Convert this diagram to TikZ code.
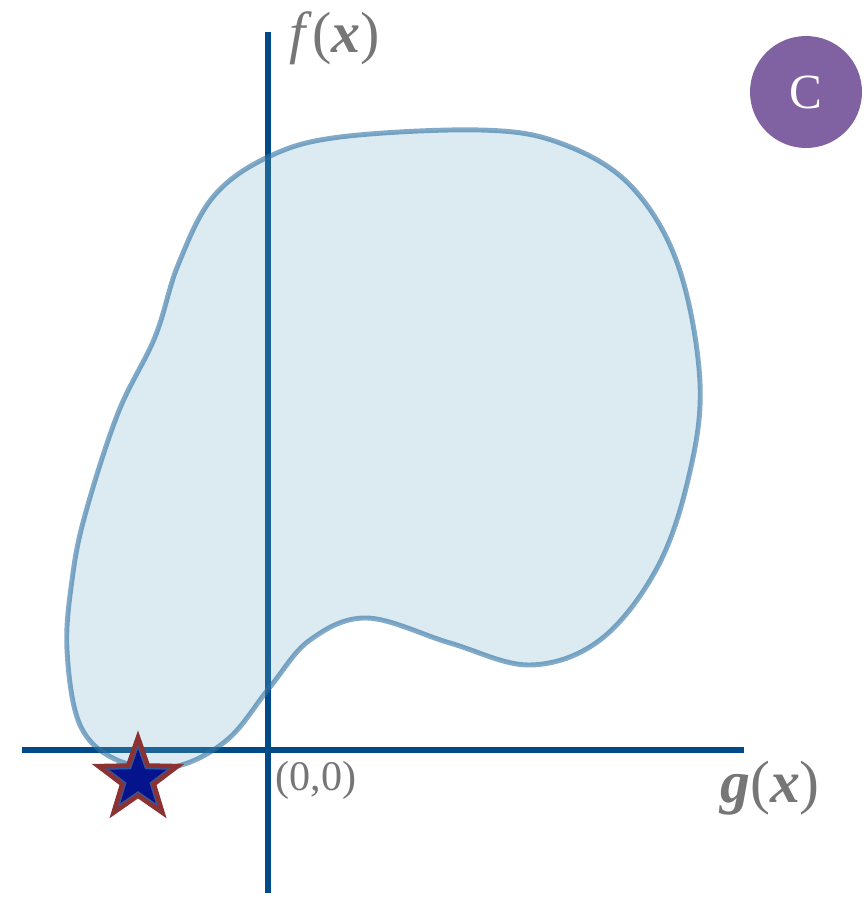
\documentclass[tikz,border=0pt]{standalone}
\usepackage{tikz}
\usetikzlibrary{shapes,arrows,positioning,calc,shapes.geometric,shadows}
\usepackage{xcolor}
\usepackage{fontspec}
\setmainfont{Liberation Serif}

\definecolor{axisblue}{RGB}{0,75,135}
\definecolor{blobfill}{RGB}{115,171,203}
\definecolor{blobline}{RGB}{47,113,163}
\definecolor{labelgray}{RGB}{118,118,118}
\definecolor{badgepurple}{RGB}{128,98,162}
\definecolor{starred}{RGB}{140,50,50}
\definecolor{starblue}{RGB}{5,20,140}
\definecolor{staredge}{RGB}{40,90,170}

\begin{document}
\begin{tikzpicture}[
    x=0.02cm, y=-0.02cm,
    axis/.style={draw=axisblue, line width=3.4pt},
    region/.style={draw=blobline, draw opacity=0.6, line width=2.8pt, fill=blobfill, fill opacity=0.25},
    axislabel/.style={text=labelgray, inner sep=0pt},
    badge/.style={circle, fill=badgepurple, minimum size=2.24cm, inner sep=0pt, text=white, font=\fontsize{28}{28}\selectfont},
    starshape/.style={star, star points=5, star point ratio=2.5, inner sep=0pt},
    optimum/.style={starshape, minimum size=1.58cm, fill=starblue, draw=starred, line width=3.4pt, drop shadow={opacity=0.3, shadow xshift=0.6pt, shadow yshift=-0.6pt}}
]

\useasboundingbox (0,0) rectangle (864,899);

% Axis ends
\coordinate (gleft) at (22,750);
\coordinate (gright) at (744,750);
\coordinate (ftop) at (268,32);
\coordinate (fbottom) at (268,893);

% Axes
\draw[axis] (gleft) -- (gright);
\draw[axis] (ftop) -- (fbottom);

% Feasible region
\draw[region] plot[smooth cycle, tension=0.6] coordinates {
    (268,157) (340,137) (480,130) (560,143) (630,185) (678,265) (700,383)
    (688,480) (656,570) (600,640) (530,665) (450,643) (367,618) (310,640)
    (270,687) (227,740) (173,767) (117,760) (80,725) (67,650) (72,580)
    (85,515) (118,413) (155,337) (178,265) (213,197)};

% Labels
\node[axislabel, font=\fontsize{33}{33}\selectfont] (flabel) at (335,38) {\textit{f}(\textbf{\textit{x}})};
\node[axislabel, font=\fontsize{34}{34}\selectfont] (glabel) at (770,788) {\textbf{\textit{g}}(\textbf{\textit{x}})};
\node[axislabel, font=\fontsize{24}{24}\selectfont] (origin) at (316,780) {(0,0)};

% Badge
\node[badge] (tag) at (806,92) {\textrm{C}};

% Optimum
\node[optimum] (best) at (138,779) {};
\node[starshape, minimum size=1.3cm, draw=staredge, line width=0.6pt] (bestin) at (best) {};

\end{tikzpicture}
\end{document}
